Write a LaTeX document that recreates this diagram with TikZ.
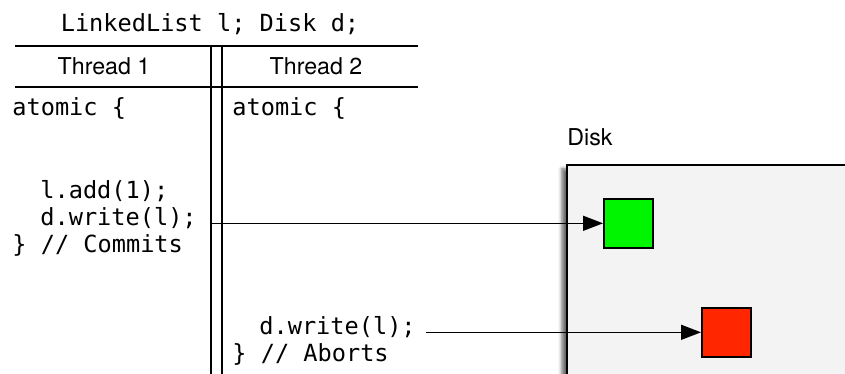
\documentclass[tikz,border=0pt]{standalone}
\usepackage{fontspec}
\setsansfont{TeX Gyre Heros}
\setmonofont{DejaVu Sans Mono}
\usetikzlibrary{positioning}
\usetikzlibrary{arrows.meta,shadows.blur}
\definecolor{commitgreen}{RGB}{0,245,0}
\definecolor{abortred}{RGB}{255,38,0}
\definecolor{diskgray}{RGB}{243,243,243}
\tikzstyle{code}=[font=\ttfamily\fontsize{11.8}{13}\selectfont, inner sep=0pt, anchor=base west]
\tikzstyle{thead}=[font=\sffamily\fontsize{11.6}{13}\selectfont, inner sep=0pt, anchor=base]
\tikzstyle{block}=[draw, line width=0.8pt, minimum size=24.5pt, inner sep=0pt, anchor=north west]
\tikzstyle{rule}=[draw, line width=0.85pt]
\tikzstyle{wire}=[draw, line width=0.75pt, -{Triangle[length=10pt,width=7.5pt]}]

\begin{document}
\begin{tikzpicture}[x=0.5pt, y=-0.5pt]

  \useasboundingbox (0,0) rectangle (845,374);

  \node[code, anchor=base] (decl) at (210,32) {LinkedList l; Disk d;};

  % table rules
  \foreach \y in {46, 87}
    \draw[rule] (15,\y) -- (418,\y);
  \foreach \x in {210.5, 221.5}
    \draw[rule, line width=1pt] (\x,46) -- (\x,380);

  \node[thead] (t1) at (104,75) {Thread 1};
  \node[thead] (t2) at (316,75) {Thread 2};

  % thread 1
  \node[code] (atom1) at (12,115) {atomic \{};
  \node[code] (add1) at (40,198) {l.add(1);};
  \node[code] (write1) at (40,225) {d.write(l);};
  \node[code] (commit1) at (12,252) {\} // Commits};

  % thread 2
  \node[code] (atom2) at (232,115) {atomic \{};
  \node[code] (write2) at (259,334) {d.write(l);};
  \node[code] (abort2) at (232,361) {\} // Aborts};

  % disk
  \node[thead, anchor=base west] (disklbl) at (567,146) {Disk};
  \node[draw, line width=0.9pt, fill=diskgray, anchor=north west,
        minimum width=160pt, minimum height=120pt,
        blur shadow={shadow xshift=-2.5pt, shadow yshift=-2pt, shadow opacity=60}] (disk) at (566,164) {};

  \node[block, fill=commitgreen] (ok) at (603,198) {};
  \node[block, fill=abortred] (bad) at (701,307) {};

  \coordinate (src1) at (210.5,222);
  \draw[wire] (src1 |- ok.west) -- (ok.west);
  \draw[wire] ([xshift=5pt]write2.east |- bad.west) -- (bad.west);

\end{tikzpicture}
\end{document}
